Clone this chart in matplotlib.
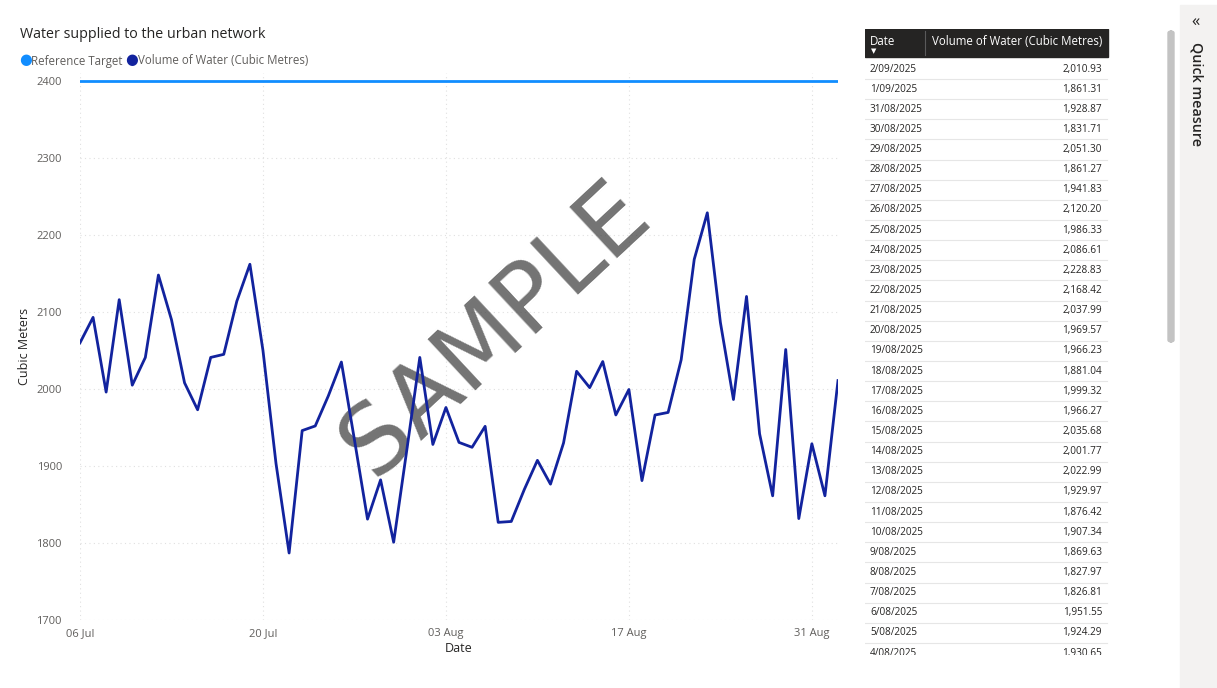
import matplotlib
matplotlib.use("Agg")
import matplotlib.pyplot as plt
import matplotlib.dates as mdates
import pandas as pd
from matplotlib.patches import Rectangle, FancyBboxPatch

plt.rcParams["font.family"] = ["Open Sans", "DejaVu Sans"]

# --- data -------------------------------------------------------------
dates = pd.date_range("2025-07-06", "2025-09-02", freq="D")
volume = [
    2060, 2093, 1996, 2116, 2005, 2041, 2148, 2090, 2008, 1973,
    2041, 2045, 2114, 2162, 2050, 1903, 1787, 1946, 1952, 1991,
    2035, 1934, 1831, 1882, 1801, 1920, 2041, 1928, 1976,
    1930.65, 1924.29, 1951.55, 1826.81, 1827.97, 1869.63, 1907.34,
    1876.42, 1929.97, 2022.99, 2001.77, 2035.68, 1966.27, 1999.32,
    1881.04, 1966.23, 1969.57, 2037.99, 2168.42, 2228.83, 2086.61,
    1986.33, 2120.20, 1941.83, 1861.27, 2051.30, 1831.71, 1928.87,
    1861.31, 2010.93,
]
target = 2400
y_ticks = [1700, 1800, 1900, 2000, 2100, 2200, 2300, 2400]
x_ticks = pd.to_datetime(["2025-07-06", "2025-07-20", "2025-08-03",
                          "2025-08-17", "2025-08-31"])
table_rows = 30  # most recent days listed in the table

REF_BLUE = "#118DFF"
NAVY = "#12239E"
GREY = "#605E5C"

W, H = 1217, 688
fig = plt.figure(figsize=(W / 100, H / 100), dpi=100)


def fx(px):
    return px / W


def fy(py):
    return 1 - py / H


# --- line chart -------------------------------------------------------
top_val = 2410
y_top_px = 620 - (top_val - 1700) * 0.77
ax = fig.add_axes([fx(80), fy(620), fx(838 - 80), (620 - y_top_px) / H])
ax.text(0.548, 0.532, "SAMPLE", transform=ax.transAxes, fontsize=69,
        color="#444444", alpha=0.75, rotation=43, ha="center", va="center",
        family="DejaVu Sans", zorder=1)
ax.plot(dates, [target] * len(dates), color=REF_BLUE, lw=2, zorder=3)
ax.plot(dates, volume, color=NAVY, lw=2, zorder=3)
ax.set_xlim(dates[0], dates[-1])
ax.set_ylim(1700, top_val)
ax.set_yticks(y_ticks)
ax.set_xticks(x_ticks)
ax.xaxis.set_major_formatter(mdates.DateFormatter("%d %b"))
for s in ax.spines.values():
    s.set_visible(False)
ax.tick_params(length=0, labelsize=8, colors=GREY, pad=6)
ax.tick_params(axis="y", pad=13)
ax.grid(True, color="#e0e0e0", ls=(0, (1, 3)), lw=0.8)
ax.set_axisbelow(True)
ax.set_xlabel("Date", fontsize=9, color="#252423", labelpad=2)
ax.set_ylabel("Cubic Meters", fontsize=9, color="#252423", labelpad=4)

fig.text(fx(20), fy(35), "Water supplied to the urban network",
         fontsize=10.3, color="#252423", va="center")
fig.text(fx(19), fy(61), "\u25CF", color=REF_BLUE, fontsize=10.5, va="center")
fig.text(fx(31), fy(61), "Reference Target", color=GREY, fontsize=8.3, va="center")
fig.text(fx(125), fy(61), "\u25CF", color=NAVY, fontsize=10.5, va="center")
fig.text(fx(138), fy(61), "Volume of Water (Cubic Metres)", color=GREY,
         fontsize=8.3, va="center")

# --- table ------------------------------------------------------------
tax = fig.add_axes([fx(865), fy(655), fx(1110 - 865), (655 - 29) / H])
tax.set_xlim(865, 1110)
tax.set_ylim(655, 29)
tax.axis("off")
tax.add_patch(Rectangle((865, 29), 243, 28, color="#252423"))
tax.plot([925, 925], [31, 55], color="#5a5a5a", lw=0.8)
tax.text(870, 41, "Date", color="white", fontsize=8.3, va="center")
tax.text(874, 51.5, "\u25BC", color="white", fontsize=5, ha="center", va="center")
tax.text(1102, 41, "Volume of Water (Cubic Metres)", color="white",
         fontsize=8.3, va="center", ha="right")
row_h = 20.14
recent = list(zip(dates[::-1], volume[::-1]))[:table_rows]
for i, (d, v) in enumerate(recent):
    yc = 69 + i * row_h
    tax.text(870, yc, f"{d.day}/{d:%m/%Y}", fontsize=7.2, color="#252423",
             va="center", clip_on=True)
    tax.text(1102, yc, f"{v:,.2f}", fontsize=7.2, color="#252423",
             va="center", ha="right", clip_on=True)
    tax.plot([865, 1107], [yc + row_h / 2] * 2, color="#e6e6e6", lw=0.8)

# --- side pane --------------------------------------------------------
fig.patches.append(FancyBboxPatch((fx(1168), fy(342)), fx(6), (342 - 31) / H,
                                  boxstyle="round,pad=0,rounding_size=0.003",
                                  transform=fig.transFigure, color="#c3c3c3"))
fig.patches.append(Rectangle((fx(1180), 0), fx(W - 1180), fy(5),
                             transform=fig.transFigure, color="#f3f2f1"))
fig.text(fx(1196), fy(22), "\u00AB", fontsize=12, color="#252423",
         ha="center", va="center")
fig.text(fx(1196), fy(42), "Quick measure", fontsize=10.3, color="#252423",
         rotation=-90, ha="center", va="top", weight="semibold")

fig.savefig("out.png", dpi=100)
